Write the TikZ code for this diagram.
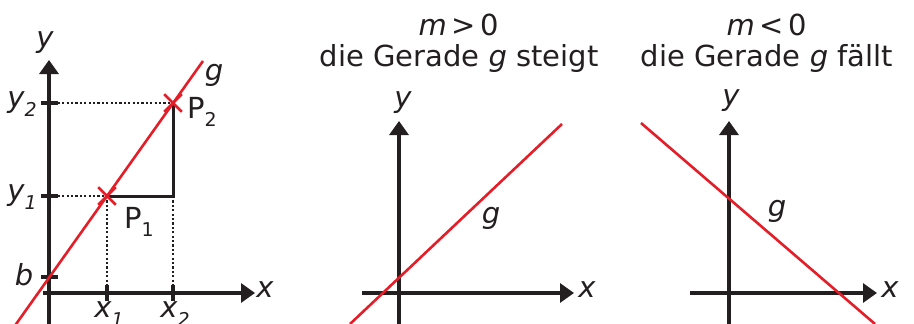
\documentclass[tikz,border=0pt]{standalone}
\usepackage{fontspec}
\setmainfont{DejaVu Sans}
\usetikzlibrary{arrows.meta, shapes.misc}
\definecolor{gred}{RGB}{228,30,40}
\definecolor{ink}{RGB}{35,31,32}
\newcommand{\lsub}[2]{#1\raisebox{-0.3em}{\fontsize{19}{19}\selectfont #2}}

\begin{document}
\begin{tikzpicture}[x=1pt, y=-1pt, color=ink,
    axis/.style={line width=3.2pt, -{Triangle[length=14pt, width=19pt]}},
    tick/.style={line width=3.2pt},
    gline/.style={draw=gred, line width=2.6pt},
    aux/.style={line width=2.4pt, dash pattern=on 2.2pt off 2.2pt},
    leg/.style={line width=3pt},
    pt/.style={draw=gred, cross out, line width=2.6pt, minimum size=15pt, inner sep=0pt},
    lbl/.style={font=\fontsize{29}{32}\selectfont, inner sep=0pt},
]
\useasboundingbox (0,0) rectangle (914,324);

% left: slope triangle
\coordinate (xs1) at (43,293);
\coordinate (xe1) at (255,293);
\coordinate (ys1) at (49,330);
\coordinate (ye1) at (49,60);
\coordinate (p1) at (107,196);
\coordinate (p2) at (173,103);
\coordinate (c) at (173,196);
\coordinate (ay2) at (49,103);
\coordinate (ay1) at (49,196);
\coordinate (ab) at (49,277);
\coordinate (ax1) at (107,293);
\coordinate (ax2) at (173,293);
\coordinate (gs1) at (14,327);
\coordinate (ge1) at (203,61);

\draw[aux] (ay2) -- (p2);
\draw[aux] (ay1) -- (p1);
\draw[aux] (p1) -- (ax1);
\draw[aux] (c) -- (ax2);
\draw[leg] (p1) -- (c) -- (p2);

\draw[axis] (xs1) -- (xe1);
\draw[axis] (ys1) -- (ye1);
\draw[tick] ([xshift=-8pt]ay2) -- ([xshift=9pt]ay2);
\draw[tick] ([xshift=-8pt]ay1) -- ([xshift=9pt]ay1);
\draw[tick] ([xshift=-8pt]ab) -- ([xshift=9pt]ab);
\draw[tick] ([yshift=8pt]ax1) -- ([yshift=-8pt]ax1);
\draw[tick] ([yshift=8pt]ax2) -- ([yshift=-8pt]ax2);

\draw[gline] (gs1) -- (ge1);
\node[pt] (cp1) at (p1) {};
\node[pt] (cp2) at (p2) {};

\node[lbl] (ylab1) at (45,43) {\itshape y};
\node[lbl] (xlab1) at (265,290) {\itshape x};
\node[lbl] (glab1) at (214,75) {\itshape g};
\node[lbl] (y2lab) at (22,104) {\itshape\lsub{y}{2}};
\node[lbl] (y1lab) at (22,197) {\itshape\lsub{y}{1}};
\node[lbl] (blab) at (24,275) {\itshape b};
\node[lbl] (x1lab) at (109,314) {\itshape\lsub{x}{1}};
\node[lbl] (x2lab) at (175,314) {\itshape\lsub{x}{2}};
\node[lbl] (p1lab) at (139,222) {\lsub{P}{1}};
\node[lbl] (p2lab) at (202,112) {\lsub{P}{2}};

% middle: m > 0
\node[lbl] (t1a) at (459,25) {\itshape m\,\upshape>\,0};
\node[lbl] (t1b) at (459,58) {die Gerade \textit{g} steigt};
\draw[axis] (362,293) -- (574,293);
\draw[axis] (399,330) -- (399,121);
\draw[gline] (350,324) -- (562,124);
\node[lbl] (ylab2) at (403,103) {\itshape y};
\node[lbl] (xlab2) at (587,290) {\itshape x};
\node[lbl] (glab2) at (491,218) {\itshape g};

% right: m < 0
\node[lbl] (t2a) at (767,25) {\itshape m\,\upshape<\,0};
\node[lbl] (t2b) at (767,58) {die Gerade \textit{g} fällt};
\draw[axis] (690,293) -- (877,293);
\draw[axis] (729,330) -- (729,121);
\draw[gline] (641,123) -- (875,324);
\node[lbl] (ylab3) at (731,101) {\itshape y};
\node[lbl] (xlab3) at (890,290) {\itshape x};
\node[lbl] (glab3) at (777,211) {\itshape g};

\end{tikzpicture}
\end{document}
